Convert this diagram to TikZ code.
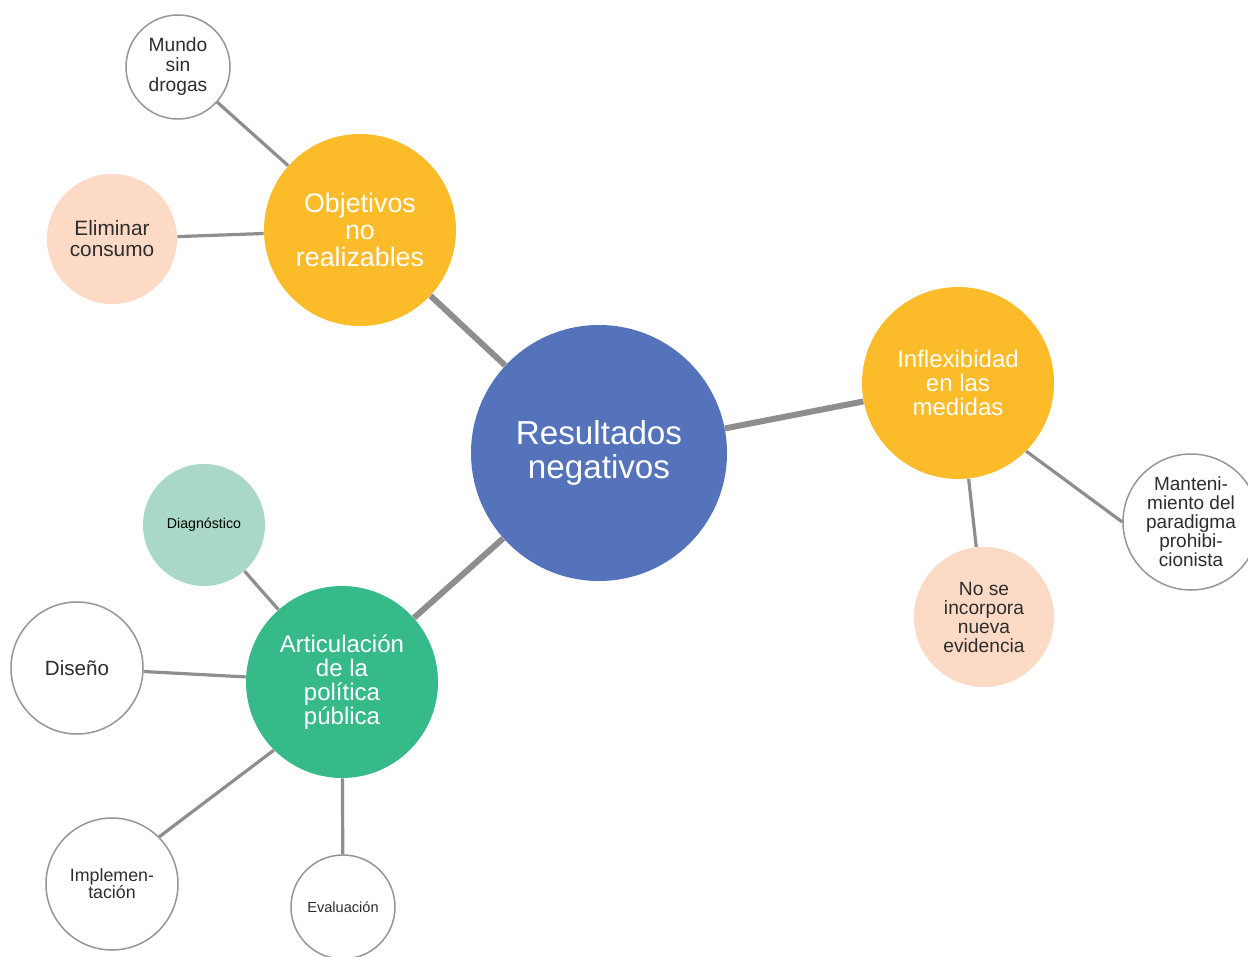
\documentclass[tikz,border=0pt]{standalone}
\usepackage{fontspec}
\setmainfont{Liberation Sans}
\definecolor{hubblue}{RGB}{84,115,186}
\definecolor{amber}{RGB}{252,187,41}
\definecolor{jade}{RGB}{55,186,138}
\definecolor{peach}{RGB}{253,218,197}
\definecolor{mint}{RGB}{169,217,198}
\definecolor{linkgray}{RGB}{142,142,142}
\definecolor{rimgray}{RGB}{150,150,150}
\definecolor{inkgray}{RGB}{45,45,45}
\newcommand{\fs}[2]{\fontsize{#1}{#2}\selectfont}
\tikzset{
  bubble/.style={circle, inner sep=0pt, align=center},
  hub/.style={bubble, fill=hubblue, text=white},
  topic/.style={bubble, text=white},
  leaf/.style={bubble, draw=rimgray, line width=0.75pt, fill=white, text=inkgray},
  softleaf/.style={bubble, text=inkgray},
  mainlink/.style={draw=linkgray, line width=3pt},
  sublink/.style={draw=linkgray, line width=1.6pt},
}
\begin{document}
\begin{tikzpicture}[x=0.5pt, y=-0.5pt]
\useasboundingbox (0,0) rectangle (1248,957);
\fill[white] (0,0) rectangle (1248,957);

% central node
\node[hub, minimum size=128pt, font=\fs{16.6}{17}] (res) at (599,453) {\raisebox{-2.5pt}{Resultados}\\\raisebox{-2.5pt}{negativos}};

% main branches
\node[topic, fill=amber, minimum size=96pt, font=\fs{13.4}{13.5}] (obj) at (360,230) {Objetivos\\no\\realizables};
\node[topic, fill=amber, minimum size=96pt, font=\fs{12}{12}] (infl) at (958,383) {Inflexibidad\\en las\\medidas};
\node[topic, fill=jade, minimum size=96pt, font=\fs{12}{12}] (art) at (342,682) {Articulación\\de la\\política\\pública};

% leaves of "Objetivos no realizables"
\node[leaf, minimum size=52pt, font=\fs{9.6}{10}] (mundo) at (178,67) {Mundo\\sin\\drogas};
\node[softleaf, fill=peach, minimum size=65pt, font=\fs{10.4}{10.5}] (elim) at (112,239) {Eliminar\\consumo};

% leaves of "Inflexibidad en las medidas"
\node[leaf, minimum size=68pt, font=\fs{9.5}{9.5}] (mant) at (1191,522) {Manteni-\\miento del\\paradigma\\prohibi-\\cionista};
\node[softleaf, fill=peach, minimum size=70pt, font=\fs{9.6}{9.5}] (nose) at (984,617) {No se\\incorpora\\nueva\\evidencia};

% leaves of "Articulación de la política pública"
\node[softleaf, fill=mint, text=black, minimum size=61pt, font=\fs{7.1}{8}] (diag) at (204,525) {Diagnóstico};
\node[leaf, minimum size=66pt, font=\fs{10.3}{11}] (dis) at (77,668) {Diseño};
\node[leaf, minimum size=66pt, font=\fs{8.9}{8.5}] (impl) at (112,884) {Implemen-\\tación};
\node[leaf, minimum size=52pt, font=\fs{7.3}{8}] (eval) at (343,907) {Evaluación};

% connectors
\draw[mainlink] (res) -- (obj);
\draw[mainlink] (res) -- (infl);
\draw[mainlink] (res) -- (art);
\draw[sublink] (obj) -- (mundo);
\draw[sublink] (obj) -- (elim);
\draw[sublink] (infl.south east) -- (mant.west);
\draw[sublink] (infl) -- (nose);
\draw[sublink] (art) -- (diag);
\draw[sublink] (art) -- (dis);
\draw[sublink] (art.south west) -- (impl.north east);
\draw[sublink] (art) -- (eval);
\end{tikzpicture}
\end{document}
